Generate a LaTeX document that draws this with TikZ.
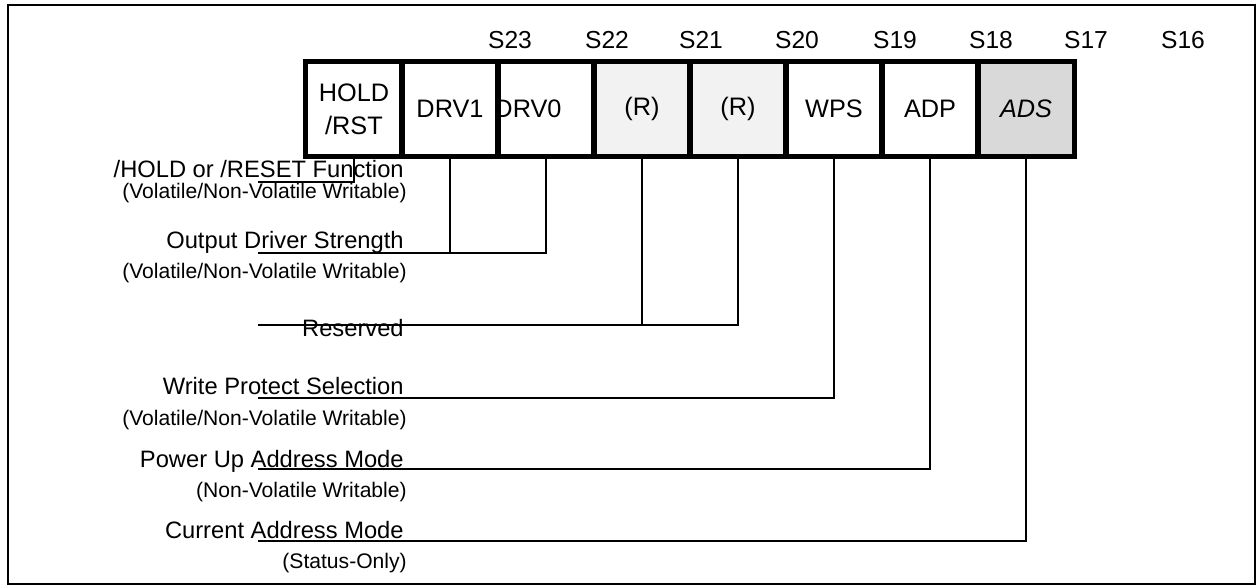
\documentclass[tikz,border=0pt]{standalone}
\usepackage{fontspec}
\setmainfont{Liberation Sans}
\begin{document}
\begin{tikzpicture}[x=0.02cm,y=-0.02cm,
  cell/.style={rectangle,inner sep=0pt,minimum width=1.92cm,minimum height=1.88cm,font=\fontsize{14.4}{18.7}\selectfont,align=center},
  celltext/.style={inner sep=0pt,font=\fontsize{14.4}{18.7}\selectfont},
  cellborder/.style={draw=black,line width=2.6pt},
  slabel/.style={inner sep=0pt,anchor=base,font=\fontsize{14}{16}\selectfont},
  desc/.style={inner sep=0pt,anchor=base east,font=\fontsize{13.5}{16}\selectfont},
  sub/.style={inner sep=0pt,anchor=base east,font=\fontsize{12}{14}\selectfont},
  leader/.style={draw=black,line width=1.3pt},
  frame/.style={draw=black,line width=1.2pt}]
\useasboundingbox (0,0) rectangle (1257,585);
\draw[frame] (8,5) rectangle (1255,584);
% register cells
\node[cell] (c0) at (354,109) {HOLD\\/RST};
\node[cell] (c1) at (450,109) {DRV1};
\node[cell] (c2) at (546,109) {};
\node[celltext] (t2) at (528,109) {DRV0};
\node[cell,fill=gray!10] (c3) at (642,109) {(R)};
\node[cell,fill=gray!10] (c4) at (738,109) {(R)};
\node[cell] (c5) at (834,109) {WPS};
\node[cell] (c6) at (930,109) {ADP};
\node[cell,fill=gray!30] (c7) at (1026,109) {\itshape ADS};
\foreach \i in {0,...,7} \draw[cellborder] (c\i.north west) rectangle (c\i.south east);
% bit labels
\foreach \n/\x in {23/510,22/607,21/701,20/797,19/895,18/991,17/1086,16/1183}
  \node[slabel] (s\n) at (\x,48) {S\n};
% descriptions
\node[desc] (d0) at (404,177) {/HOLD or /RESET Function};
\node[sub] (d0s) at (407,198) {(Volatile/Non-Volatile Writable)};
\node[desc] (d1) at (404,248) {Output Driver Strength};
\node[sub] (d1s) at (407,278) {(Volatile/Non-Volatile Writable)};
\node[desc] (d2) at (404,336) {Reserved};
\node[desc] (d3) at (404,394) {Write Protect Selection};
\node[sub] (d3s) at (407,425) {(Volatile/Non-Volatile Writable)};
\node[desc] (d4) at (404,467) {Power Up Address Mode};
\node[sub] (d4s) at (407,497) {(Non-Volatile Writable)};
\node[desc] (d5) at (404,538) {Current Address Mode};
\node[sub] (d5s) at (407,568) {(Status-Only)};
% leader lines
\coordinate (e0) at (258,182);
\coordinate (e1) at (258,253);
\coordinate (e2) at (258,325);
\coordinate (e3) at (258,398);
\coordinate (e4) at (258,469);
\coordinate (e5) at (258,541);
\draw[leader] (c0.south) |- (e0);
\draw[leader] (c1.south) -- (c1.south |- e1);
\draw[leader] (c2.south) |- (e1);
\draw[leader] (c3.south) -- (c3.south |- e2);
\draw[leader] (c4.south) |- (e2);
\draw[leader] (c5.south) |- (e3);
\draw[leader] (c6.south) |- (e4);
\draw[leader] (c7.south) |- (e5);
\end{tikzpicture}
\end{document}
